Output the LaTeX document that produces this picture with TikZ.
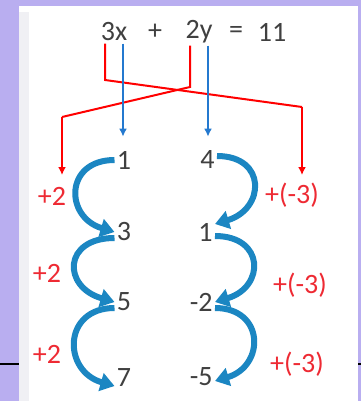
\documentclass[tikz,border=0pt]{standalone}
\usepackage{fontspec}
\setmainfont{Carlito}
\usetikzlibrary{arrows.meta}

\definecolor{lav}{HTML}{B9AEF0}
\definecolor{strip}{HTML}{F0F0F4}
\definecolor{hopblue}{HTML}{1B86C2}
\definecolor{lineblue}{HTML}{2479CF}
\definecolor{addred}{HTML}{EE2A33}

\tikzset{
  num/.style={inner sep=1pt, font=\fontsize{14}{16}\selectfont, text=black!75},
  addlbl/.style={inner sep=1pt, font=\fontsize{14}{16}\selectfont, text=addred},
  redarrow/.style={red, line width=1pt, -{Latex[length=4pt,width=4pt]}},
  redline/.style={red, line width=1pt},
  bluearrow/.style={lineblue, line width=1pt, -{Latex[length=4pt,width=4pt]}},
  hop/.style={hopblue, line width=3pt, -{Triangle[width=9pt,length=7pt]}},
}

\begin{document}
\begin{tikzpicture}[x=0.5pt,y=-0.5pt]
  \useasboundingbox (0,0) rectangle (361,401);
  \fill[lav] (0,0) rectangle (361,401);
  \draw[line width=1pt] (0,364) -- (361,364);
  \fill[white] (19,6) rectangle (358,401);
  \fill[strip] (19,12) rectangle (29,401);

  % equation
  \node[num] (tx) at (114,32) {3x};
  \node[num] (plus) at (155,32) {+};
  \node[num] (ty) at (199,32) {2y};
  \node[num] (eq) at (236,32) {=};
  \node[num] (rhs) at (272,32) {11};

  % x column
  \node[num] (a1) at (124,160) {1};
  \node[num] (a3) at (124,232) {3};
  \node[num] (a5) at (124,302) {5};
  \node[num] (a7) at (124,378) {7};

  % y column
  \node[num,anchor=east] (b4) at (217,160) {4};
  \node[num,anchor=east] (b1) at (215,232) {1};
  \node[num,anchor=east] (b2) at (215,302) {-2};
  \node[num,anchor=east] (b5) at (215,377) {-5};

  % steps
  \node[addlbl] (p1) at (52,196) {+2};
  \node[addlbl] (p2) at (47,273) {+2};
  \node[addlbl] (p3) at (47,354) {+2};
  \node[addlbl] (q1) at (292,195) {+(-3)};
  \node[addlbl] (q2) at (300,285) {+(-3)};
  \node[addlbl] (q3) at (297,364) {+(-3)};

  % crossing red lines
  \coordinate (xbend) at (105,80);
  \coordinate (xturn) at (302,107);
  \coordinate (xend) at (302,175);
  \coordinate (ybend) at (190,87);
  \coordinate (yturn) at (62,117);
  \coordinate (yend) at (62,175);
  \draw[redline] ([xshift=-4.5pt]tx.south) -- (xbend) -- (xturn);
  \draw[redarrow] (xturn) -- (xend);
  \draw[redline] ([xshift=-4.5pt]ty.south) -- (ybend) -- (yturn);
  \draw[redarrow] (yturn) -- (yend);

  \draw[bluearrow] ([xshift=4.5pt]tx.south) -- ([yshift=6pt]a1.north -| 123,0);
  \draw[bluearrow] ([xshift=4.5pt]ty.south) -- ([yshift=6pt]b4.north -| 208,0);

  % hops
  \draw[hop] (a1.west) .. controls +(-50,0) and +(-50,-15) .. (a3.west);
  \draw[hop] ([yshift=-3pt]a3.west) .. controls +(-52,0) and +(-52,-15) .. (a5.west);
  \draw[hop] ([yshift=-3pt]a5.west) .. controls +(-52,0) and +(-52,-15) .. ([yshift=-4pt]a7.west);
  \draw[hop] ([yshift=2pt]b4.east) .. controls +(50,0) and +(50,-15) .. ([yshift=4pt]b1.east);
  \draw[hop] ([yshift=-2pt]b1.east) .. controls +(50,0) and +(50,-15) .. (b2.east);
  \draw[hop] ([yshift=-3pt]b2.east) .. controls +(50,0) and +(50,-15) .. ([yshift=-2pt]b5.east);
\end{tikzpicture}
\end{document}
